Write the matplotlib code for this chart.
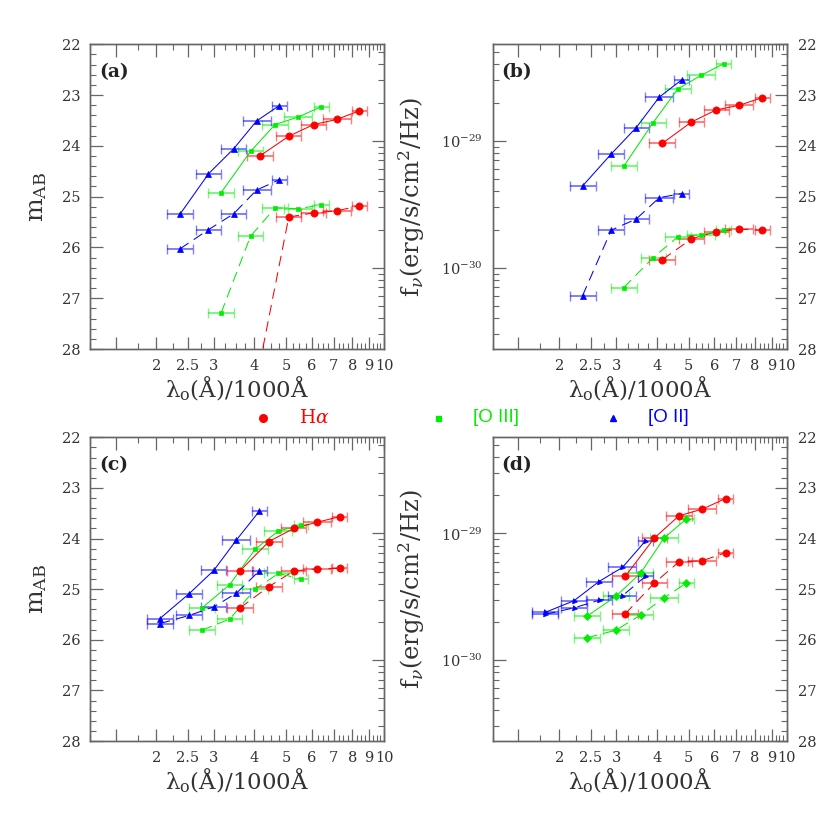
import numpy as np
import matplotlib
matplotlib.use("Agg")
import matplotlib.pyplot as plt
from matplotlib.ticker import FixedLocator, NullFormatter, FixedFormatter
from matplotlib.lines import Line2D

plt.rcParams['font.family'] = ['DejaVu Serif']
plt.rcParams['mathtext.fontset'] = 'dejavuserif'
plt.rcParams['lines.scale_dashes'] = False

# ---------------- data ----------------
# filter half widths (dex), shared by all series (5 broad bands)
band_halfwidth_dex = [0.040, 0.039, 0.039, 0.043, 0.023]

# panels (a),(b): rest-frame wavelength / 1000 A
x_ab_ha = [4.15, 5.10, 6.08, 7.16, 8.40]
x_ab_o3 = [3.16, 3.89, 4.63, 5.46, 6.41]
x_ab_o2 = [2.36, 2.89, 3.45, 4.06, 4.76]
# panels (c),(d)
x_c_ha = [3.61, 4.43, 5.28, 6.21, 7.30]
x_c_o3 = [2.76, 3.36, 4.02, 4.74, 5.56]
x_c_o2 = [2.05, 2.52, 3.00, 3.52, 4.14]
x_d_ha = [3.19, 3.92, 4.67, 5.50, 6.49]
x_d_o3 = [2.44, 2.99, 3.56, 4.20, 4.92]
x_d_o2 = [1.81, 2.22, 2.65, 3.13, 3.68]

# AB magnitudes, solid and dashed curves
a_ha_solid = [24.20, 23.81, 23.58, 23.48, 23.31]
a_ha_dash = [28.30, 25.40, 25.32, 25.28, 25.18]
a_o3_solid = [24.92, 24.11, 23.58, 23.43, 23.23]
a_o3_dash = [27.29, 25.78, 25.22, 25.24, 25.16]
a_o2_solid = [25.35, 24.55, 24.06, 23.51, 23.21]
a_o2_dash = [26.03, 25.65, 25.34, 24.87, 24.67]

b_ha_solid = [23.95, 23.53, 23.29, 23.20, 23.05]
b_ha_dash = [26.24, 25.83, 25.69, 25.64, 25.66]
b_o3_solid = [24.40, 23.54, 22.88, 22.61, 22.38]
b_o3_dash = [26.79, 26.20, 25.79, 25.75, 25.66]
b_o2_solid = [24.79, 24.16, 23.64, 23.04, 22.70]
b_o2_dash = [26.95, 25.66, 25.44, 25.02, 24.94]

c_ha_solid = [24.64, 24.06, 23.80, 23.68, 23.57]
c_ha_dash = [25.37, 24.95, 24.64, 24.60, 24.59]
c_o3_solid = [25.37, 24.91, 24.21, 23.85, 23.74]
c_o3_dash = [25.81, 25.59, 25.00, 24.69, 24.80]
c_o2_solid = [25.58, 25.09, 24.63, 24.03, 23.46]
c_o2_dash = [25.68, 25.52, 25.35, 25.08, 24.64]

d_ha_solid = [24.75, 23.99, 23.55, 23.42, 23.21]
d_ha_dash = [25.49, 24.88, 24.46, 24.44, 24.28]
d_o3_solid = [25.53, 25.14, 24.68, 23.99, 23.61]
d_o3_dash = [25.96, 25.81, 25.51, 25.17, 24.88]
d_o2_solid = [25.46, 25.23, 24.85, 24.57, 24.05]
d_o2_dash = [25.50, 25.37, 25.22, 25.13, 24.75]

x_major = [1.5, 2, 2.5, 3, 4, 5, 6, 7, 8, 9, 10]
x_major_labels = ['', '2', '2.5', '3', '4', '5', '6', '7', '8', '9', '10']
mag_major = [22, 23, 24, 25, 26, 27, 28]
flux_major = [1e-30, 1e-29]
flux_major_labels = [r'$10^{-30}$', r'$10^{-29}$']

legend_names = [r'H$\alpha$', '[O III]', '[O II]']

RED, GREEN, BLUE = '#ff0000', '#00ee00', '#0000ff'
FRAME = '#666666'
TXT = '#333333'

def f2m(f):
    return -2.5 * np.log10(f) - 48.6

fig = plt.figure(figsize=(8.3, 8.3), dpi=100)

def add_ax(l, t, r, b):
    return fig.add_axes([l / 830, 1 - b / 830, (r - l) / 830, (b - t) / 830])

def x_minor():
    v = np.arange(1.25, 10.0, 0.25)
    return [t for t in v if not any(abs(t - m) < 1e-6 for m in x_major)]

def mag_minor():
    v = np.arange(22.0, 28.001, 0.2)
    return [t for t in v if abs(t - round(t)) > 1e-6]

def flux_minor():
    out = []
    for e in (-31, -30, -29):
        for k in range(2, 10):
            m = f2m(k * 10.0 ** e)
            if 22 <= m <= 28:
                out.append(m)
    return out

def style_axis(ax):
    for s in ax.spines.values():
        s.set_color(FRAME)
        s.set_linewidth(1.0)
    ax.tick_params(which='both', direction='in', colors=FRAME, labelcolor=TXT,
                   labelsize=10.5)
    ax.tick_params(which='major', length=9, width=0.9)
    ax.tick_params(which='minor', length=4.5, width=0.8)

def set_mag_ticks(yaxis, labels=True):
    yaxis.set_major_locator(FixedLocator(mag_major))
    yaxis.set_minor_locator(FixedLocator(mag_minor()))
    if labels:
        yaxis.set_major_formatter(FixedFormatter([str(v) for v in mag_major]))
    else:
        yaxis.set_major_formatter(NullFormatter())
    yaxis.set_minor_formatter(NullFormatter())

def set_flux_ticks(yaxis, labels=True):
    yaxis.set_major_locator(FixedLocator([f2m(f) for f in flux_major]))
    yaxis.set_minor_locator(FixedLocator(flux_minor()))
    if labels:
        yaxis.set_major_formatter(FixedFormatter(flux_major_labels))
    else:
        yaxis.set_major_formatter(NullFormatter())
    yaxis.set_minor_formatter(NullFormatter())

def draw(ax, x, y, color, marker, ms, ls):
    x = np.asarray(x)
    hw = np.asarray(band_halfwidth_dex)
    xerr = [x - x / 10 ** hw, x * 10 ** hw - x]
    ax.errorbar(x, y, xerr=xerr, fmt='none', ecolor=color, elinewidth=1.4,
                capsize=3.5, capthick=1.0, alpha=0.5, zorder=2)
    if ls == 'dash':
        lsty = (0, (7.5, 4.5))
    else:
        lsty = '-'
    ax.plot(x, y, color=color, lw=0.75, ls=lsty, zorder=3)
    ax.plot(x, y, ls='none', marker=marker, ms=ms, mfc=color, mec=color,
            mew=0.5, zorder=4)

def panel(ax, tag, series, flux_left, markers):
    ax.set_xscale('log')
    ax.set_xlim(1.25, 10)
    ax.set_ylim(28, 22)
    ax.xaxis.set_major_locator(FixedLocator(x_major))
    ax.xaxis.set_major_formatter(FixedFormatter(x_major_labels))
    ax.xaxis.set_minor_locator(FixedLocator(x_minor()))
    ax.xaxis.set_minor_formatter(NullFormatter())
    style_axis(ax)
    ax.tick_params(axis='x', which='both', top=True, pad=7)
    ax.tick_params(axis='y', which='both', right=False, pad=7)
    tw = ax.twinx()
    tw.set_ylim(28, 22)
    style_axis(tw)
    tw.tick_params(axis='y', which='both', left=False, right=True, pad=8)
    if flux_left:
        set_flux_ticks(ax.yaxis, True)
        set_mag_ticks(tw.yaxis, True)
        ax.set_ylabel(r'f$_\nu$(erg/s/cm$^2$/Hz)', fontsize=17.5, color=TXT)
        ax.yaxis.set_label_coords(-0.222, 0.5)
    else:
        set_mag_ticks(ax.yaxis, True)
        set_flux_ticks(tw.yaxis, False)
        ax.set_ylabel(r'm$_{\rm AB}$', fontsize=18, color=TXT)
        ax.yaxis.set_label_coords(-0.138, 0.5)
    ax.set_xlabel('λ' + r'$_{\rm o}$' + '(Å)/1000Å', fontsize=16.5, color=TXT)
    ax.xaxis.set_label_coords(0.5, -0.085)
    ax.text(0.03, 0.91, '(' + tag + ')', transform=ax.transAxes, fontsize=13.5,
            fontweight='bold', color='#222222', va='center', ha='left')
    colors = [RED, GREEN, BLUE]
    for (x, ys, yd), c, (mk, ms) in zip(series, colors, markers):
        draw(ax, x, ys, c, mk, ms, 'solid')
        draw(ax, x, yd, c, mk, ms, 'dash')

mk_std = [('o', 5.2), ('s', 3.4), ('^', 3.8)]
mk_d = [('o', 5.2), ('D', 3.8), ((3, 0, -100), 4.4)]

ax_a = add_ax(90, 44.3, 384, 349)
panel(ax_a, 'a', [(x_ab_ha, a_ha_solid, a_ha_dash),
                  (x_ab_o3, a_o3_solid, a_o3_dash),
                  (x_ab_o2, a_o2_solid, a_o2_dash)], False, mk_std)
ax_b = add_ax(492.7, 44.3, 786.7, 349)
panel(ax_b, 'b', [(x_ab_ha, b_ha_solid, b_ha_dash),
                  (x_ab_o3, b_o3_solid, b_o3_dash),
                  (x_ab_o2, b_o2_solid, b_o2_dash)], True, mk_std)
ax_c = add_ax(90, 437.3, 384, 741)
panel(ax_c, 'c', [(x_c_ha, c_ha_solid, c_ha_dash),
                  (x_c_o3, c_o3_solid, c_o3_dash),
                  (x_c_o2, c_o2_solid, c_o2_dash)], False, mk_std)
ax_d = add_ax(492.7, 437.3, 786.7, 741)
panel(ax_d, 'd', [(x_d_ha, d_ha_solid, d_ha_dash),
                  (x_d_o3, d_o3_solid, d_o3_dash),
                  (x_d_o2, d_o2_solid, d_o2_dash)], True, mk_d)

# legend row
leg_y = 1 - 417.5 / 830
leg_marker_x = [263.3, 438.3, 612.7]
leg_text_x = [299.3, 473.3, 648.3]
leg_markers = [('o', 5.5), ('s', 3.6), ('^', 4.0)]
leg_fonts = [['DejaVu Serif'], ['Liberation Sans'], ['Liberation Sans']]
for name, c, mx, tx, (mk, ms), fam in zip(legend_names, [RED, GREEN, BLUE],
                                            leg_marker_x, leg_text_x,
                                            leg_markers, leg_fonts):
    fig.add_artist(Line2D([mx / 830], [leg_y], marker=mk, ms=ms, color=c,
                          ls='none', transform=fig.transFigure))
    fig.text(tx / 830, leg_y, name, color=c, fontsize=13.5, family=fam,
             va='center', ha='left')

fig.savefig('out.png', dpi=100)
